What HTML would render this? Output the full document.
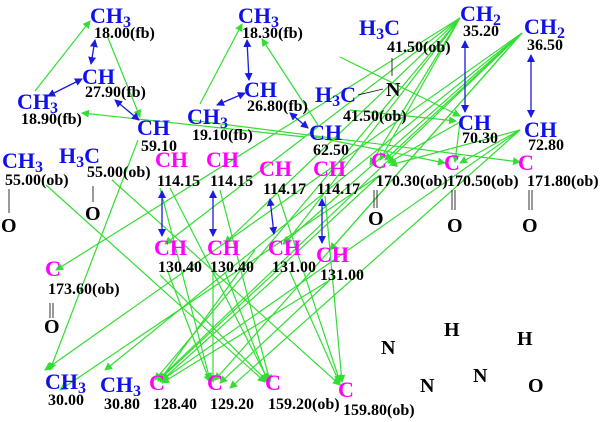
<!DOCTYPE html>
<html><head><meta charset="utf-8"><style>
html,body{margin:0;padding:0;background:#fff;}
svg{display:block;}
text{font-family:"Liberation Serif",serif;font-weight:bold;}
.b{fill:#1010ee;font-size:22px;}
.m{fill:#ff00ff;font-size:22px;}
.k{fill:#000;font-size:16px;}
.a{fill:#000;font-size:20px;}
.g line{stroke:#33dd33;stroke-width:1.2;}
.bl line{stroke:#1a1ae0;stroke-width:1.3;}
.bk line{stroke:#000;stroke-width:0.8;}
</style></head><body>
<svg width="600" height="422" viewBox="0 0 600 422" xmlns="http://www.w3.org/2000/svg">
<defs>
<marker id="ga" markerWidth="8" markerHeight="8" refX="7" refY="4" orient="auto" markerUnits="userSpaceOnUse"><path d="M0,0 L8,4 L0,8 z" fill="#33dd33"/></marker>
<marker id="ba" markerWidth="8" markerHeight="8" refX="7" refY="4" orient="auto" markerUnits="userSpaceOnUse"><path d="M0,0 L8,4 L0,8 z" fill="#1a1ae0"/></marker>
<marker id="bs" markerWidth="8" markerHeight="8" refX="1" refY="4" orient="auto" markerUnits="userSpaceOnUse"><path d="M8,0 L0,4 L8,8 z" fill="#1a1ae0"/></marker>
</defs>

<g class="g" marker-end="url(#ga)">
<line x1="35" y1="91" x2="90" y2="21"/>
<line x1="108" y1="38" x2="140" y2="117"/>
<line x1="305" y1="137" x2="82" y2="113"/>
<line x1="200" y1="104" x2="242" y2="24"/>
<line x1="318" y1="125" x2="262" y2="39"/>
<line x1="138" y1="140" x2="50" y2="370"/>
<line x1="190" y1="120" x2="520" y2="162"/>
<line x1="315" y1="137" x2="445" y2="163"/>
<line x1="46" y1="185" x2="265" y2="382"/>
<line x1="112" y1="180" x2="340" y2="385"/>
<line x1="340" y1="57" x2="460" y2="116"/>
<line x1="350" y1="110" x2="456" y2="121"/>
<line x1="460" y1="18" x2="380" y2="160"/>
<line x1="460" y1="18" x2="56" y2="270"/>
<line x1="460" y1="18" x2="165" y2="244"/>
<line x1="460" y1="18" x2="225" y2="243"/>
<line x1="460" y1="18" x2="285" y2="244"/>
<line x1="460" y1="18" x2="370" y2="165"/>
<line x1="460" y1="18" x2="155" y2="380"/>
<line x1="522" y1="33" x2="385" y2="160"/>
<line x1="522" y1="33" x2="283" y2="244"/>
<line x1="522" y1="33" x2="330" y2="250"/>
<line x1="522" y1="33" x2="158" y2="380"/>
<line x1="522" y1="33" x2="215" y2="380"/>
<line x1="522" y1="33" x2="105" y2="370"/>
<line x1="522" y1="33" x2="45" y2="370"/>
<line x1="460" y1="122" x2="388" y2="163"/>
<line x1="460" y1="122" x2="455" y2="162"/>
<line x1="520" y1="130" x2="390" y2="165"/>
<line x1="520" y1="130" x2="460" y2="163"/>
<line x1="520" y1="130" x2="162" y2="380"/>
<line x1="520" y1="130" x2="230" y2="388"/>
<line x1="160" y1="188" x2="210" y2="380"/>
<line x1="170" y1="188" x2="268" y2="380"/>
<line x1="220" y1="190" x2="270" y2="382"/>
<line x1="278" y1="194" x2="340" y2="382"/>
<line x1="325" y1="196" x2="342" y2="382"/>
<line x1="160" y1="275" x2="268" y2="382"/>
<line x1="168" y1="272" x2="210" y2="382"/>
<line x1="213" y1="272" x2="213" y2="382"/>
<line x1="225" y1="272" x2="268" y2="382"/>
<line x1="290" y1="272" x2="340" y2="384"/>
<line x1="282" y1="272" x2="160" y2="382"/>
<line x1="330" y1="280" x2="162" y2="383"/>
<line x1="330" y1="280" x2="220" y2="383"/>
<line x1="255" y1="250" x2="160" y2="380"/>
<line x1="380" y1="175" x2="158" y2="381"/>
<line x1="380" y1="175" x2="60" y2="390"/>
</g>

<g class="bl" marker-start="url(#bs)" marker-end="url(#ba)">
<line x1="95" y1="40" x2="91" y2="64"/>
<line x1="48" y1="96" x2="82" y2="79"/>
<line x1="115" y1="100" x2="139" y2="120"/>
<line x1="247" y1="40" x2="249" y2="80"/>
<line x1="217" y1="105" x2="245" y2="93"/>
<line x1="290" y1="113" x2="308" y2="128"/>
<line x1="465" y1="41" x2="465" y2="112"/>
<line x1="531" y1="55" x2="531" y2="117"/>
<line x1="162" y1="191" x2="162" y2="236"/>
<line x1="213" y1="191" x2="213" y2="236"/>
<line x1="270" y1="199" x2="274" y2="234"/>
<line x1="322" y1="199" x2="322" y2="243"/>
</g>

<g class="bk">
<line x1="9" y1="189" x2="9" y2="213"/>
<line x1="93" y1="186" x2="93" y2="202"/>
<line x1="392" y1="58" x2="392" y2="76"/>
<line x1="358" y1="95" x2="383" y2="89"/>
<line x1="374" y1="190" x2="374" y2="208"/><line x1="377" y1="190" x2="377" y2="208"/>
<line x1="452" y1="190" x2="452" y2="210"/><line x1="455" y1="190" x2="455" y2="210"/>
<line x1="529" y1="190" x2="529" y2="210"/><line x1="532" y1="190" x2="532" y2="210"/>
<line x1="50" y1="303" x2="50" y2="318"/><line x1="53" y1="303" x2="53" y2="318"/>
</g>

<text class="b" x="90" y="23">CH<tspan dy="4" font-size="16">3</tspan></text>
<text class="k" x="94" y="38">18.00(fb)</text>
<text class="b" x="82" y="84">CH</text>
<text class="k" x="85" y="97">27.90(fb)</text>
<text class="b" x="17" y="109">CH<tspan dy="4" font-size="16">3</tspan></text>
<text class="k" x="21" y="124">18.90(fb)</text>
<text class="b" x="137" y="135">CH</text>
<text class="k" x="141" y="151">59.10</text>
<text class="b" x="238" y="23">CH<tspan dy="4" font-size="16">3</tspan></text>
<text class="k" x="242" y="38">18.30(fb)</text>
<text class="b" x="244" y="97">CH</text>
<text class="k" x="247" y="111">26.80(fb)</text>
<text class="b" x="187" y="124">CH<tspan dy="4" font-size="16">3</tspan></text>
<text class="k" x="192" y="140">19.10(fb)</text>
<text class="b" x="309" y="140">CH</text>
<text class="k" x="313" y="155">62.50</text>
<text class="b" x="359" y="35">H<tspan dy="4" font-size="16">3</tspan><tspan dy="-4">C</tspan></text>
<text class="k" x="387" y="52">41.50(ob)</text>
<text class="a" x="386" y="96">N</text>
<text class="b" x="315" y="102">H<tspan dy="4" font-size="16">3</tspan><tspan dy="-4">C</tspan></text>
<text class="k" x="343" y="121">41.50(ob)</text>
<text class="b" x="460" y="21">CH<tspan dy="4" font-size="16">2</tspan></text>
<text class="k" x="463" y="36">35.20</text>
<text class="b" x="524" y="34">CH<tspan dy="4" font-size="16">2</tspan></text>
<text class="k" x="527" y="50">36.50</text>
<text class="b" x="458" y="130">CH</text>
<text class="k" x="462" y="143">70.30</text>
<text class="b" x="524" y="137">CH</text>
<text class="k" x="528" y="150">72.80</text>
<text class="b" x="2" y="168">CH<tspan dy="4" font-size="16">3</tspan></text>
<text class="k" x="5" y="185">55.00(ob)</text>
<text class="a" x="1" y="232">O</text>
<text class="b" x="59" y="163">H<tspan dy="4" font-size="16">3</tspan><tspan dy="-4">C</tspan></text>
<text class="k" x="87" y="177">55.00(ob)</text>
<text class="a" x="85" y="220">O</text>

<text class="m" x="371" y="168">C</text>
<text class="k" x="376" y="186">170.30(ob)</text>
<text class="a" x="368" y="225">O</text>
<text class="m" x="444" y="170">C</text>
<text class="k" x="447" y="186">170.50(ob)</text>
<text class="a" x="447" y="232">O</text>
<text class="m" x="518" y="170">C</text>
<text class="k" x="527" y="186">171.80(ob)</text>
<text class="a" x="522" y="232">O</text>
<text class="m" x="45" y="276">C</text>
<text class="k" x="48" y="294">173.60(ob)</text>
<text class="a" x="44" y="333">O</text>

<text class="m" x="155" y="167">CH</text>
<text class="k" x="157" y="186">114.15</text>
<text class="m" x="206" y="167">CH</text>
<text class="k" x="210" y="186">114.15</text>
<text class="m" x="259" y="176">CH</text>
<text class="k" x="263" y="194">114.17</text>
<text class="m" x="313" y="176">CH</text>
<text class="k" x="317" y="194">114.17</text>
<text class="m" x="154" y="255">CH</text>
<text class="k" x="158" y="272">130.40</text>
<text class="m" x="207" y="255">CH</text>
<text class="k" x="210" y="272">130.40</text>
<text class="m" x="268" y="255">CH</text>
<text class="k" x="272" y="272">131.00</text>
<text class="m" x="316" y="262">CH</text>
<text class="k" x="320" y="280">131.00</text>

<text class="b" x="45" y="389">CH<tspan dy="4" font-size="16">3</tspan></text>
<text class="k" x="48" y="405">30.00</text>
<text class="b" x="100" y="392">CH<tspan dy="4" font-size="16">3</tspan></text>
<text class="k" x="104" y="409">30.80</text>
<text class="m" x="149" y="390">C</text>
<text class="k" x="153" y="409">128.40</text>
<text class="m" x="207" y="390">C</text>
<text class="k" x="210" y="409">129.20</text>
<text class="m" x="265" y="390">C</text>
<text class="k" x="268" y="409">159.20(ob)</text>
<text class="m" x="338" y="397">C</text>
<text class="k" x="343" y="415">159.80(ob)</text>

<text class="a" x="381" y="354">N</text>
<text class="a" x="444" y="336">H</text>
<text class="a" x="517" y="345">H</text>
<text class="a" x="420" y="392">N</text>
<text class="a" x="473" y="382">N</text>
<text class="a" x="528" y="392">O</text>
</svg>
</body></html>
